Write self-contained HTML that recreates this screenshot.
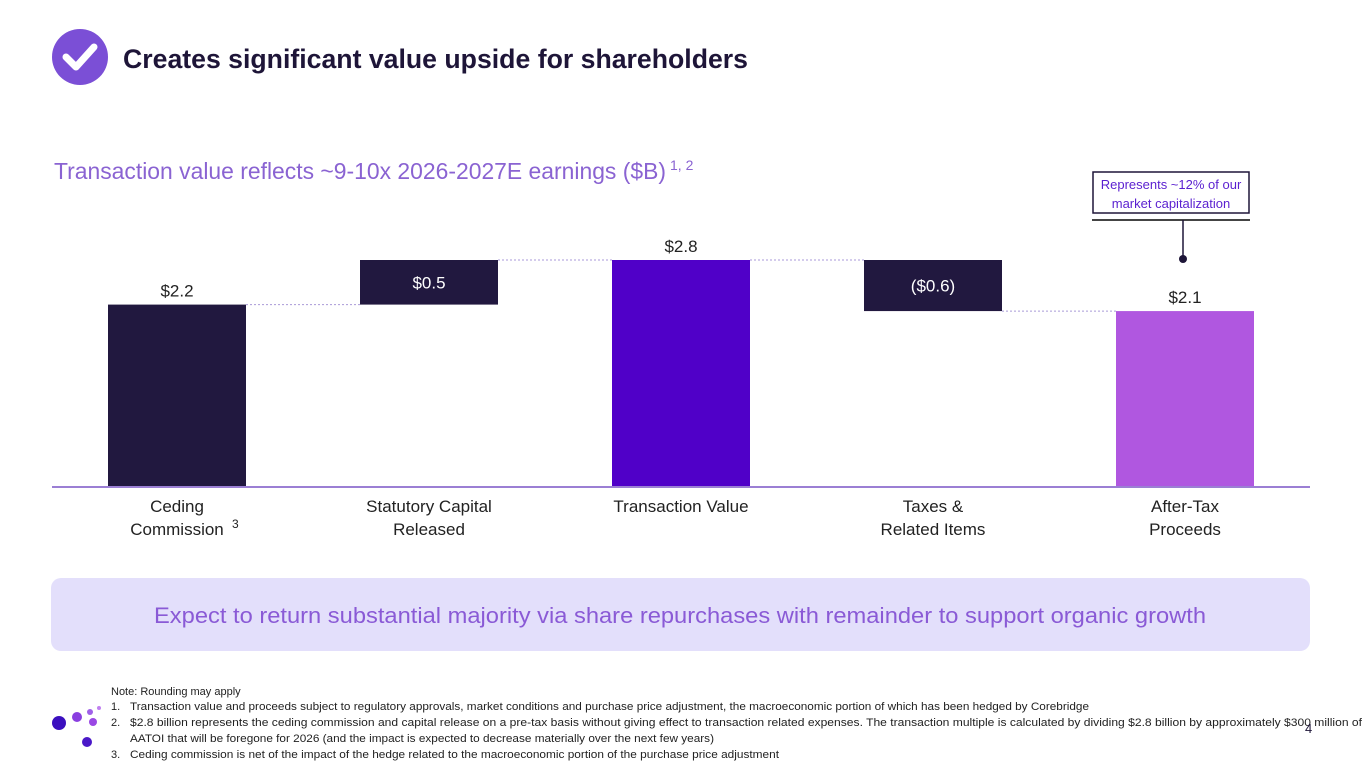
<!DOCTYPE html>
<html><head><meta charset="utf-8"><style>
html,body{margin:0;padding:0;background:#fff;}
svg{display:block;font-family:"Liberation Sans",sans-serif;}
</style></head><body>
<svg width="1365" height="768" viewBox="0 0 1365 768">
  <g>
    <circle cx="80" cy="57" r="28" fill="#7b4fd6"/>
    <path d="M66 57 L76 67 L94 47" stroke="#fff" stroke-width="7" fill="none" stroke-linecap="round" stroke-linejoin="round"/>
    <text x="123" y="68" font-size="27" font-weight="bold" fill="#1e1538" textLength="625" lengthAdjust="spacingAndGlyphs">Creates significant value upside for shareholders</text>
  </g>
  <text x="54" y="179" font-size="23" fill="#8a63d2" textLength="612" lengthAdjust="spacingAndGlyphs">Transaction value reflects ~9-10x 2026-2027E earnings ($B)</text>
  <text x="670" y="170" font-size="14" fill="#8a63d2">1, 2</text>

  <g>
    <rect x="1093" y="172" width="156" height="41" fill="#fff" stroke="#1e1538" stroke-width="1.5"/>
    <text x="1171" y="189" font-size="13" fill="#5a1fd0" text-anchor="middle">Represents ~12% of our</text>
    <text x="1171" y="208" font-size="13" fill="#5a1fd0" text-anchor="middle">market capitalization</text>
    <line x1="1092" y1="220" x2="1250" y2="220" stroke="#444" stroke-width="2"/>
    <line x1="1183" y1="220" x2="1183" y2="258" stroke="#1e1538" stroke-width="1.5"/>
    <circle cx="1183" cy="259" r="4" fill="#1e1538"/>
  </g>

  <g id="chart"></g>

  <g>
    <rect x="51" y="578" width="1259" height="73" rx="10" fill="#e3dffb"/>
    <text x="680" y="623" font-size="22" fill="#8a5ad6" text-anchor="middle" textLength="1052" lengthAdjust="spacingAndGlyphs">Expect to return substantial majority via share repurchases with remainder to support organic growth</text>
  </g>

  <g>
    <circle cx="59" cy="723" r="7" fill="#3b0fbf"/>
    <circle cx="77" cy="717" r="5" fill="#8a3fe0"/>
    <circle cx="90" cy="712" r="3" fill="#a060e8"/>
    <circle cx="99" cy="708" r="2" fill="#c080f0"/>
    <circle cx="93" cy="722" r="4" fill="#9a48e4"/>
    <circle cx="87" cy="742" r="5" fill="#4a18c8"/>
  </g>
  <g font-size="11" fill="#222">
    <text x="111" y="695">Note: Rounding may apply</text>
    <text x="111" y="710">1.</text>
    <text x="130" y="710" textLength="959" lengthAdjust="spacingAndGlyphs">Transaction value and proceeds subject to regulatory approvals, market conditions and purchase price adjustment, the macroeconomic portion of which has been hedged by Corebridge</text>
    <text x="111" y="726">2.</text>
    <text x="130" y="726" textLength="1232" lengthAdjust="spacingAndGlyphs">$2.8 billion represents the ceding commission and capital release on a pre-tax basis without giving effect to transaction related expenses. The transaction multiple is calculated by dividing $2.8 billion by approximately $300 million of</text>
    <text x="130" y="742" textLength="584" lengthAdjust="spacingAndGlyphs">AATOI that will be foregone for 2026 (and the impact is expected to decrease materially over the next few years)</text>
    <text x="111" y="758">3.</text>
    <text x="130" y="758" textLength="649" lengthAdjust="spacingAndGlyphs">Ceding commission is net of the impact of the hedge related to the macroeconomic portion of the purchase price adjustment</text>
  </g>
  <text x="1305" y="733" font-size="13" fill="#1e1538">4</text>
</svg>
<script>
const categories = [["Ceding","Commission"],["Statutory Capital","Released"],["Transaction Value"],["Taxes &","Related Items"],["After-Tax","Proceeds"]];
const deltas = [2.25, 0.55, 2.8, -0.63, 2.17];
const kinds = ["total","step","total","step","total"];
const valueLabels = ["$2.2","$0.5","$2.8","($0.6)","$2.1"];
const colors = ["#21183f","#21183f","#5000c8","#21183f","#b057e0"];

const NS="http://www.w3.org/2000/svg";
const g=document.getElementById('chart');
const baseY=487, pxPer=81.07, x0=108, band=252, bw=138;
const y=v=>baseY - v*pxPer;
const xb=i=>x0 + i*band;
function mk(t,a){const e=document.createElementNS(NS,t);for(const k in a)e.setAttribute(k,a[k]);g.appendChild(e);return e;}
let run=0, prevTop=null;
deltas.forEach((d,i)=>{
  let lo,hi;
  if(kinds[i]==="total"){ lo=0; hi=d; run=d; }
  else { const s=run; run=s+d; lo=Math.min(s,run); hi=Math.max(s,run); }
  const topPx=y(hi), botPx=y(lo);
  if(prevTop!==null){
    const c=mk('line',{x1:xb(i-1)+bw,x2:xb(i),y1:prevTop,y2:prevTop,stroke:'#a99ad8','stroke-width':1,'stroke-dasharray':'2,2'});
    
    
  }
  const r=mk('rect',{x:xb(i),y:topPx,width:bw,height:botPx-topPx,fill:colors[i]});
  
  
  let lbl;
  if(kinds[i]==="step"){
    lbl=mk('text',{x:xb(i)+bw/2,y:(topPx+botPx)/2+6,'font-size':17,fill:'#fff','text-anchor':'middle'});
  } else {
    lbl=mk('text',{x:xb(i)+bw/2,y:topPx-8,'font-size':17,fill:'#222','text-anchor':'middle'});
  }
  lbl.textContent=valueLabels[i];
  
  
  prevTop = topPx;
  if(kinds[i]==="step" && d<0) prevTop=botPx;
  categories[i].forEach((ln,j)=>{
    const t=mk('text',{x:xb(i)+bw/2,y:512+j*23,'font-size':17,fill:'#222','text-anchor':'middle'});
    t.textContent=ln;
    
    
  });
});
const sup=mk('text',{x:232,y:528,'font-size':12,fill:'#222'});
sup.textContent='3';


const ax=mk('line',{x1:52,x2:1310,y1:baseY,y2:baseY,stroke:'#9b7fd4','stroke-width':2});


</script>
</body></html>
